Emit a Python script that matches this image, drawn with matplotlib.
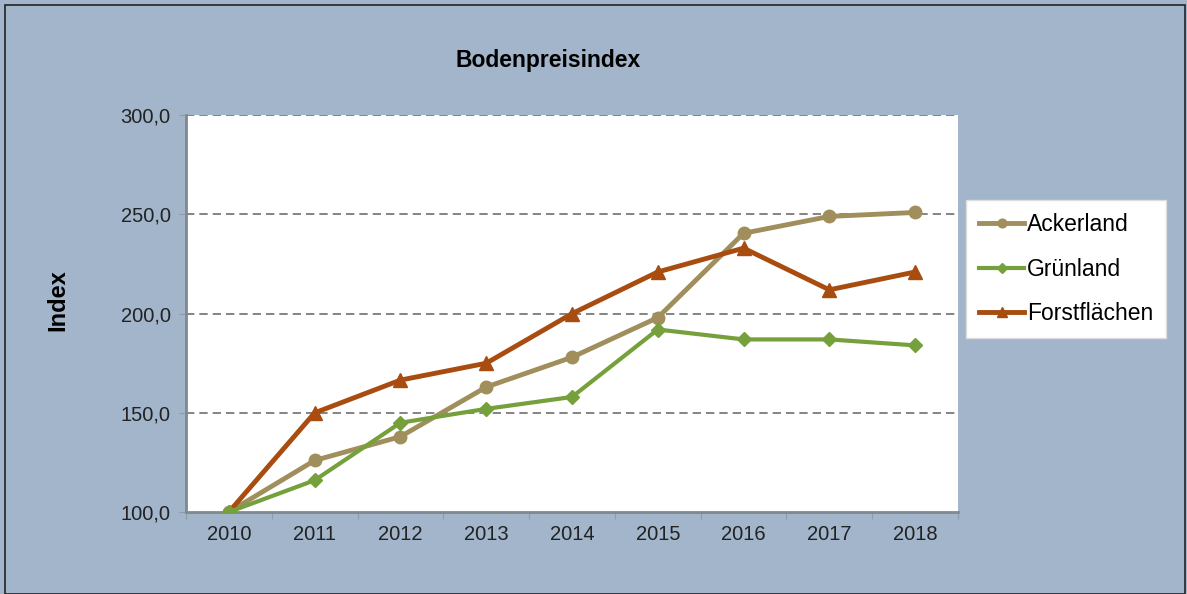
import matplotlib
matplotlib.use("Agg")
import matplotlib.pyplot as plt
from matplotlib.patches import Rectangle
import numpy as np

plt.rcParams['font.family'] = ['Liberation Sans', 'DejaVu Sans']

years = ["2010", "2011", "2012", "2013", "2014", "2015", "2016", "2017", "2018"]
ackerland = [100, 126, 138, 163, 178, 198, 240.5, 249, 251]
gruenland = [100, 116, 145, 152, 158, 192, 187, 187, 184]
forst = [100, 150, 166.5, 175, 200, 221, 233, 212, 221]
yticks = [100, 150, 200, 250, 300]

bg = "#A2B5CA"
fig = plt.figure(figsize=(11.87, 5.94), dpi=100, facecolor=bg)
fig.patches.append(Rectangle((0.004, 0.0), 0.994, 0.992, transform=fig.transFigure,
                             fill=False, edgecolor="#222222", linewidth=1.2))
ax = fig.add_axes([0.1567, 0.138, 0.6504, 0.668])
ax.set_facecolor("white")

x = np.arange(len(years))
ax.plot(x, ackerland, color="#A08F5C", lw=3.5, marker="o", ms=9, label="Ackerland", zorder=3)
ax.plot(x, gruenland, color="#76A03B", lw=3, marker="D", ms=7, label="Grünland", zorder=4)
ax.plot(x, forst, color="#A84C10", lw=3.5, marker="^", ms=10, label="Forstflächen", zorder=3)

ax.set_xlim(-0.5, 8.5)
ax.set_ylim(100, 300)
ax.set_yticks(yticks)
ax.set_yticklabels([f"{v:.1f}".replace(".", ",") for v in yticks], fontsize=14.5, color="#222222")
ax.set_xticks(np.arange(-0.5, 9.0, 1.0))
ax.set_xticklabels([])
ax.set_xticks(x, minor=True)
ax.set_xticklabels(years, minor=True, fontsize=14.5, color="#222222")
ax.tick_params(axis="x", which="minor", length=0, pad=9)
ax.tick_params(axis="x", which="major", length=5, color="#8C9BB0", direction="out")
ax.tick_params(axis="y", length=5, color="#8C9BB0", pad=6)

for v in yticks[1:]:
    ax.axhline(v, color="#707070", lw=1.2, ls=(0, (5, 3)), zorder=1)

for s in ["top", "right"]:
    ax.spines[s].set_visible(False)
for s in ["left", "bottom"]:
    ax.spines[s].set_color("#808890")
    ax.spines[s].set_linewidth(2)

fig.text(0.462, 0.898, "Bodenpreisindex", ha="center", va="center", fontsize=16.5, fontweight="bold")
fig.text(0.049, 0.495, "Index", ha="center", va="center", rotation=90, fontsize=17, fontweight="bold")

leg = ax.legend(loc="upper left", bbox_to_anchor=(1.0104, 0.786), fontsize=16.5, frameon=True,
                fancybox=False, edgecolor="#dddddd", framealpha=1, handlelength=2.0,
                labelspacing=0.95, borderpad=0.55, handletextpad=0.1, markerscale=0.7,
                borderaxespad=0)

fig.savefig("out.png", dpi=100, facecolor=bg)
